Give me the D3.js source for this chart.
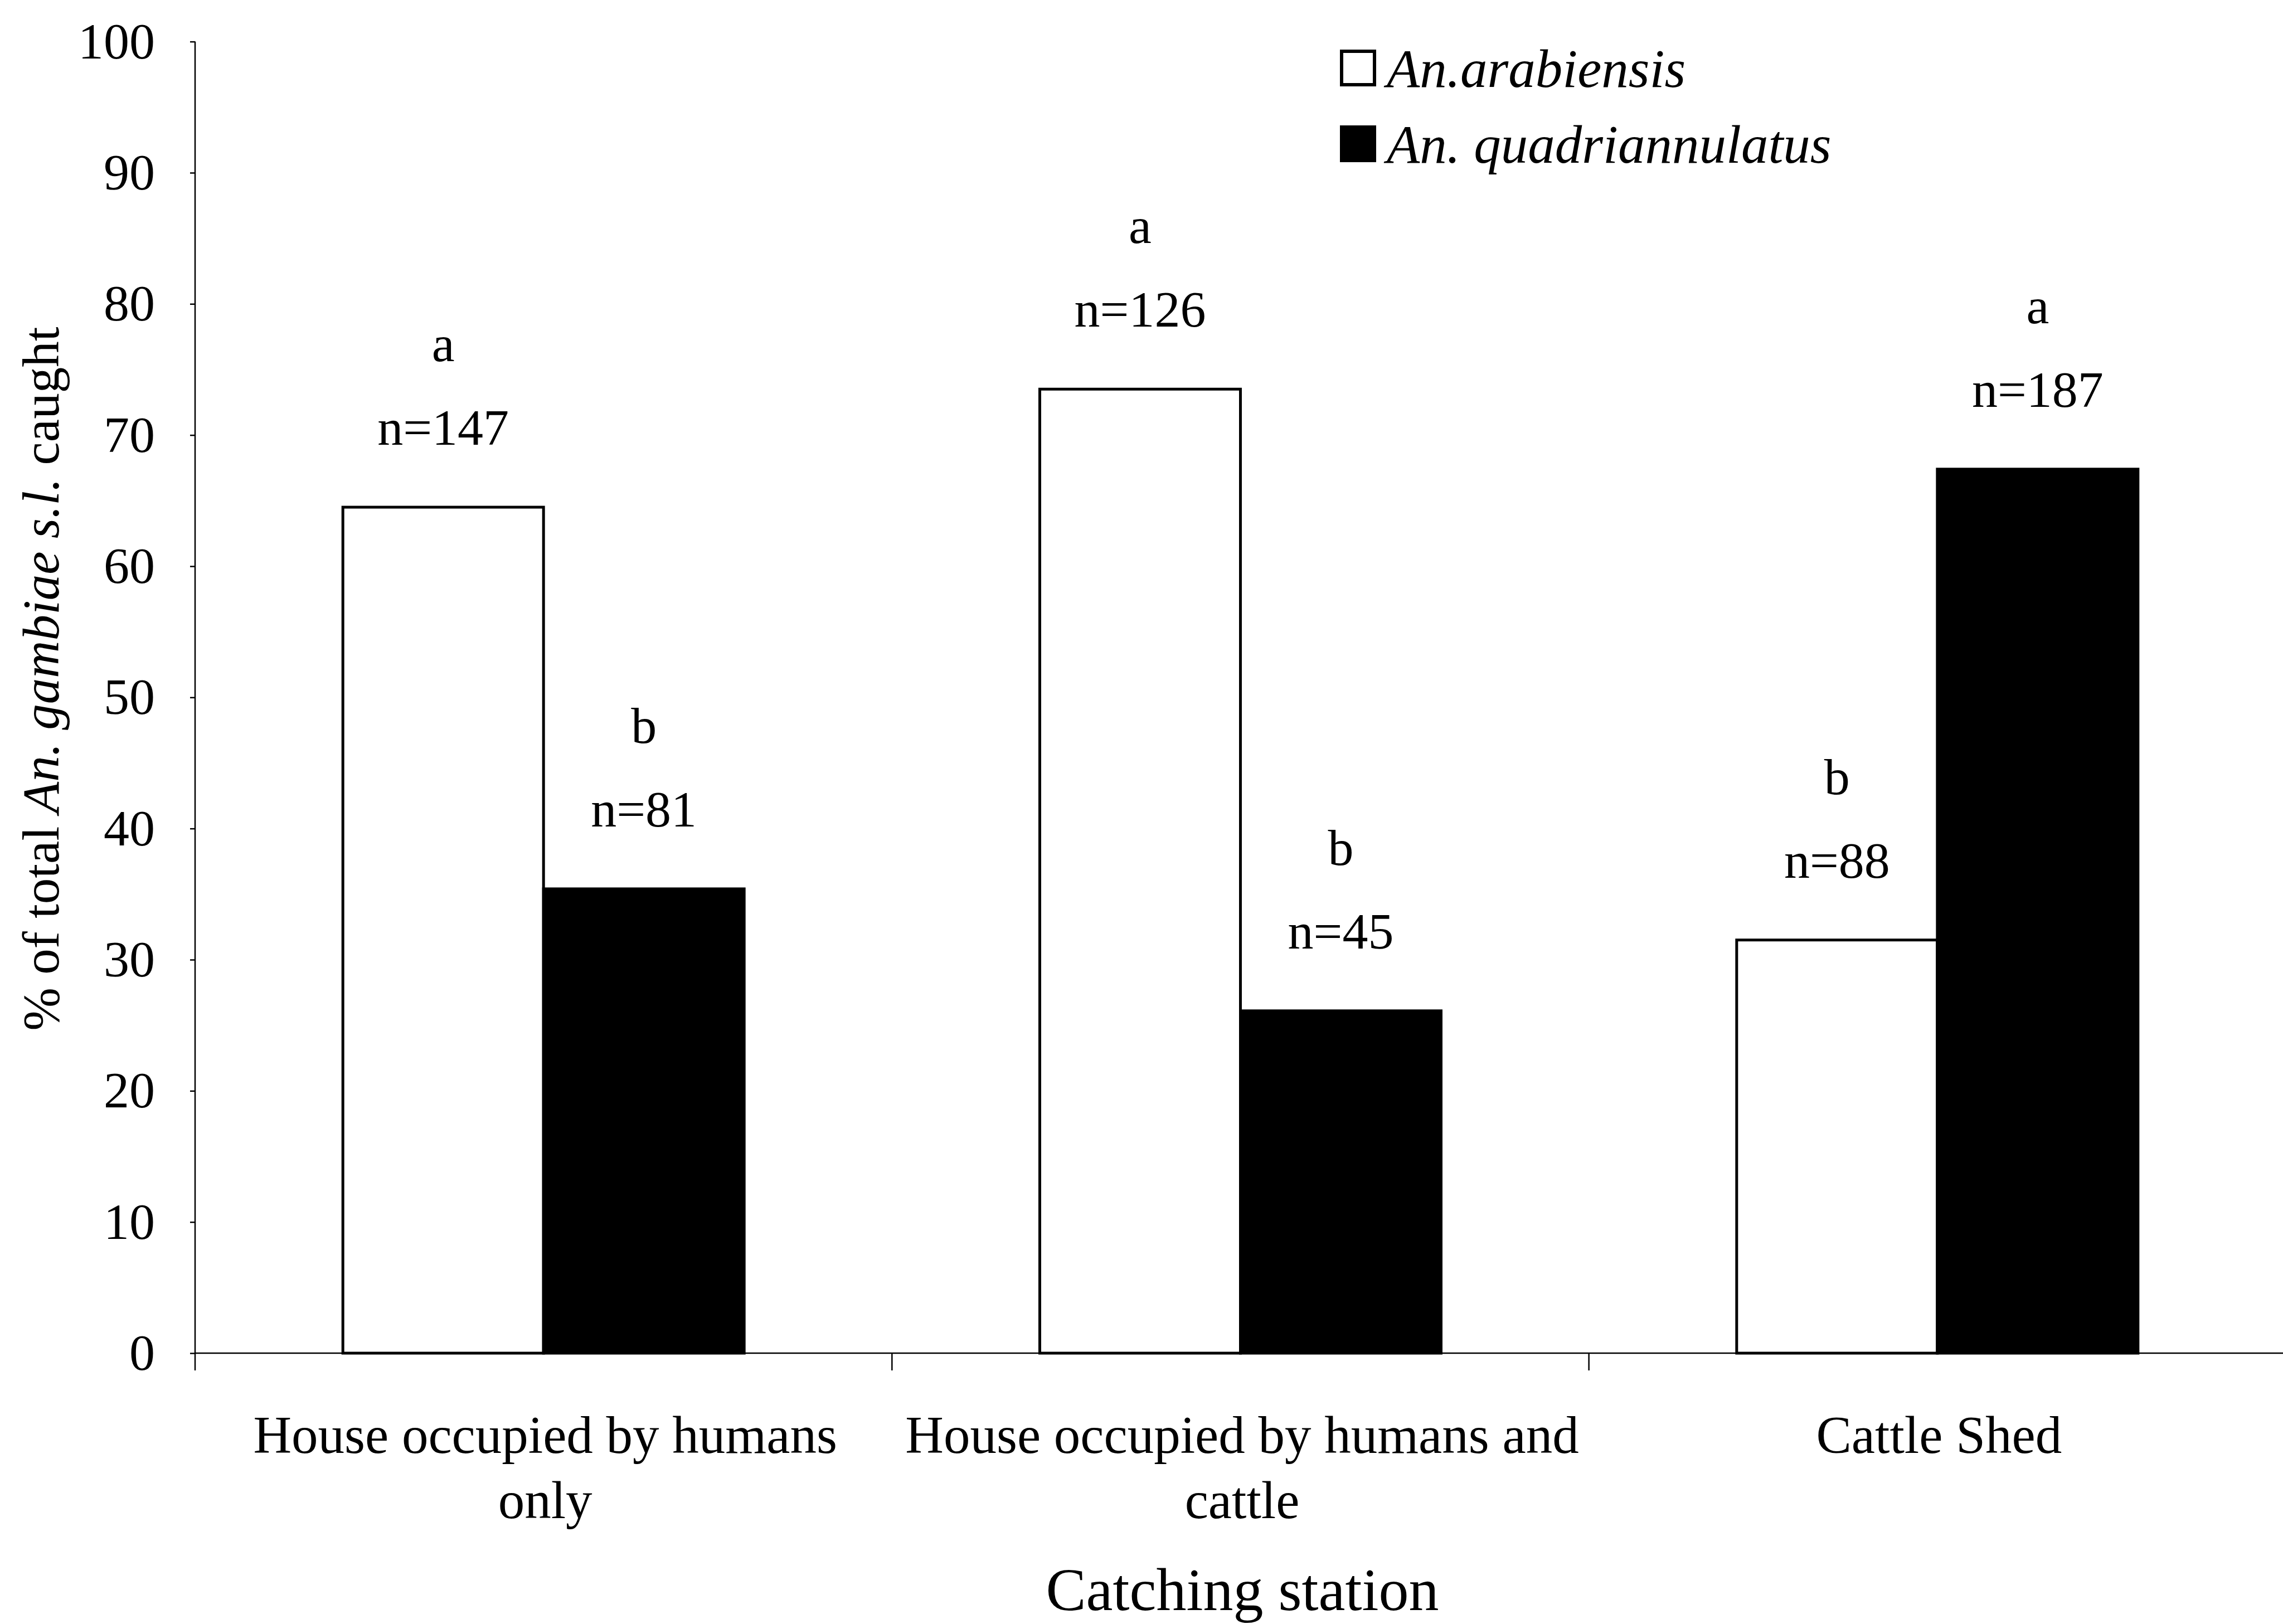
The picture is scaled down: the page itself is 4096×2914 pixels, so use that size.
<!DOCTYPE html>
<html>
<head>
<meta charset="utf-8">
<script src="https://cdn.jsdelivr.net/npm/d3@7"></script>
<style>
  html, body { margin: 0; padding: 0; background: #fff; }
  svg { display: block; }
  text { font-family: "Liberation Serif", "Times New Roman", serif; fill: #000; }
</style>
</head>
<body>
<svg id="chart" width="4096" height="2914"></svg>
<script>
// Catching stations (line breaks as printed under the axis)
const categories = [
  "House occupied by humans\nonly",
  "House occupied by humans and\ncattle",
  "Cattle Shed"
];
const seriesNames = ["An.arabiensis", "An. quadriannulatus"];

// % of total An. gambiae s.l. caught at each station
const arabiensisPct = [64.5, 73.5, 31.5];
const quadriannulatusPct = [35.4, 26.1, 67.4];

// Sample sizes and significance letters printed above the bars
const arabiensisN = [147, 126, 88];
const quadriannulatusN = [81, 45, 187];
const arabiensisLetters = ["a", "a", "b"];
const quadriannulatusLetters = ["b", "b", "a"];

const yTicks = [0, 10, 20, 30, 40, 50, 60, 70, 80, 90, 100];

const seriesValues = [arabiensisPct, quadriannulatusPct];
const seriesN = [arabiensisN, quadriannulatusN];
const seriesLetters = [arabiensisLetters, quadriannulatusLetters];
const seriesFill = ["#ffffff", "#000000"];

const svg = d3.select("#chart");

const axisX = 350;
const x = d3.scaleBand().domain(categories).range([axisX, 4101]).paddingInner(0).paddingOuter(0);
const y = d3.scaleLinear().domain([0, 100]).range([2428, 74.6]);
const groupWidth = 720;
const xs = d3.scaleBand().domain(seriesNames).range([0, groupWidth]).padding(0);

// Bars with their n and letter annotations
seriesNames.forEach((name, si) => {
  const g = svg.append("g");
  categories.forEach((cat, ci) => {
    const left = x(cat) + x.bandwidth() / 2 - groupWidth / 2 + xs(name);
    const v = seriesValues[si][ci];
    g.append("rect")
      .attr("x", left)
      .attr("y", y(v))
      .attr("width", xs.bandwidth())
      .attr("height", y(0) - y(v))
      .attr("fill", seriesFill[si])
      .attr("stroke", "#000")
      .attr("stroke-width", 5);

    const cx = left + xs.bandwidth() / 2;
    g.append("text")
      .attr("x", cx)
      .attr("y", y(v) - 112)
      .attr("text-anchor", "middle")
      .attr("font-size", 92)
      .text("n=" + seriesN[si][ci]);
    g.append("text")
      .attr("x", cx)
      .attr("y", y(v) - 262)
      .attr("text-anchor", "middle")
      .attr("font-size", 92)
      .text(seriesLetters[si][ci]);
  });
});

// Y axis
const yAxis = d3.axisLeft(y).tickValues(yTicks).tickSize(9).tickSizeOuter(0).tickPadding(63);
const gy = svg.append("g").attr("transform", `translate(${axisX},0)`).call(yAxis);
gy.select(".domain").remove();
gy.selectAll(".tick line").attr("stroke", "#000").attr("stroke-width", 2.5);
gy.selectAll(".tick text")
  .attr("font-family", "Liberation Serif, Times New Roman, serif")
  .attr("font-size", 92)
  .attr("fill", "#000");
svg.append("line")
  .attr("x1", axisX).attr("x2", axisX)
  .attr("y1", y(100)).attr("y2", y(0) + 31)
  .attr("stroke", "#000").attr("stroke-width", 2.5);

// X axis line and boundary ticks between stations
svg.append("line")
  .attr("x1", axisX).attr("x2", 4096)
  .attr("y1", y(0)).attr("y2", y(0))
  .attr("stroke", "#000").attr("stroke-width", 2.5);
const boundaries = categories.map(c => x(c)).concat([x.range()[1]]);
svg.append("g").selectAll("line").data(boundaries.slice(1)).join("line")
  .attr("x1", d => d).attr("x2", d => d)
  .attr("y1", y(0)).attr("y2", y(0) + 31)
  .attr("stroke", "#000").attr("stroke-width", 2.5);

// Category labels
categories.forEach(cat => {
  const lines = cat.split("\n");
  const t = svg.append("text")
    .attr("text-anchor", "middle")
    .attr("font-size", 95);
  lines.forEach((ln, i) => {
    t.append("tspan")
      .attr("x", x(cat) + x.bandwidth() / 2 + 3)
      .attr("y", 2607 + i * 117)
      .text(ln);
  });
});

// Axis titles
svg.append("text")
  .attr("x", 2229).attr("y", 2889)
  .attr("text-anchor", "middle")
  .attr("font-size", 108)
  .text("Catching station");

const yt = svg.append("text")
  .attr("transform", "translate(105,1218) rotate(-90)")
  .attr("text-anchor", "middle")
  .attr("font-size", 93);
yt.append("tspan").text("% of total ");
yt.append("tspan").attr("font-style", "italic").text("An. gambiae s.l.");
yt.append("tspan").text(" caught");

// Legend
const legend = svg.append("g");
const legendY = [92, 228];
seriesNames.forEach((name, i) => {
  legend.append("rect")
    .attr("x", 2407).attr("y", legendY[i])
    .attr("width", 59).attr("height", 60)
    .attr("fill", seriesFill[i])
    .attr("stroke", "#000").attr("stroke-width", 6);
  legend.append("text")
    .attr("x", 2488).attr("y", legendY[i] + 64)
    .attr("font-size", 97)
    .attr("font-style", "italic")
    .text(name);
});
</script>
</body>
</html>
